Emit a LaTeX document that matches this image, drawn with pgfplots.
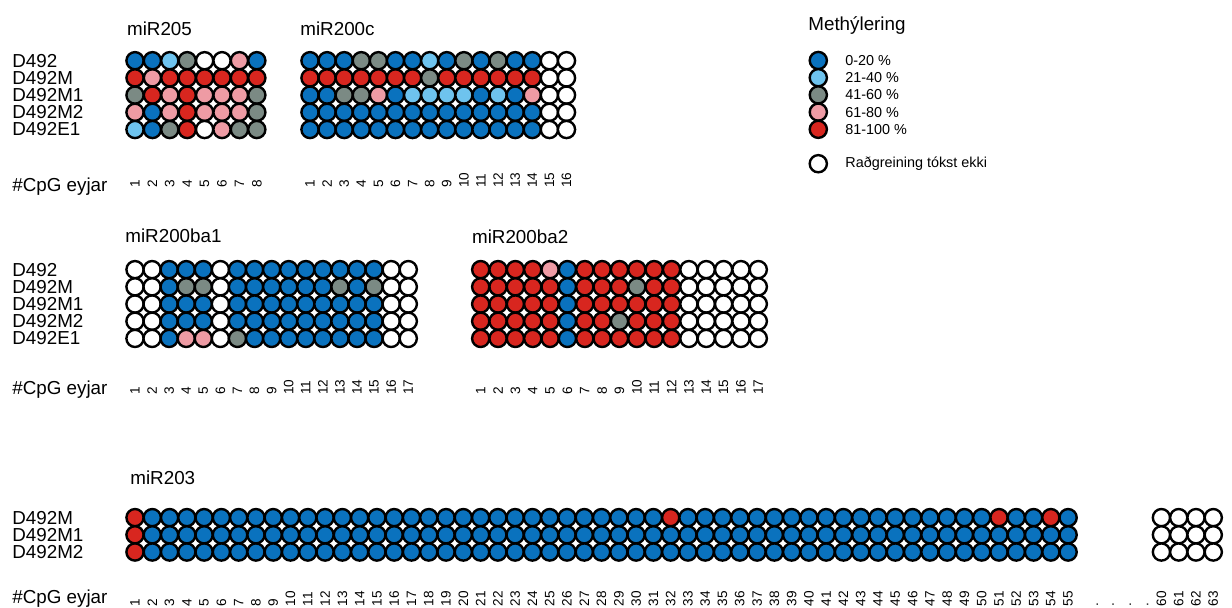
\documentclass[border=0pt]{standalone}
\usepackage{fontspec}
\setmainfont{Liberation Sans}
\usepackage{pgfplots}
\usepackage{pgfplotstable}
\pgfplotsset{compat=1.18}
\definecolor{cB}{HTML}{0A72BE}
\definecolor{cL}{HTML}{6EC3EE}
\definecolor{cG}{HTML}{7B8A84}
\definecolor{cP}{HTML}{EE9BA4}
\definecolor{cR}{HTML}{D8261F}
\pgfplotsset{
  meth/.style={
    scale only axis, clip=false, anchor=south west,
    axis line style={draw=none}, tick style={draw=none}, major tick length=0pt,
    /pgf/number format/assume math mode=true,
    xticklabel style={rotate=90, anchor=west, inner sep=0pt, font=\fontsize{6.8}{7}\selectfont},
    yticklabel style={anchor=west, inner sep=0pt, font=\fontsize{9.4}{9.4}\selectfont},
  },
  dots/.style={only marks, scatter, point meta=explicit symbolic, mark=*, mark size=4.3pt,
    mark options={line width=1.2pt},
    scatter/classes={
      b={mark=*,draw=black,fill=cB},
      l={mark=*,draw=black,fill=cL},
      g={mark=*,draw=black,fill=cG},
      p={mark=*,draw=black,fill=cP},
      r={mark=*,draw=black,fill=cR},
      w={mark=*,draw=black,fill=white}}},
}
% miR205: columns = samples D492, D492M, D492M1, D492M2, D492E1
\pgfplotstableread{
x r1 r2 r3 r4 r5
1 b r g p l
2 b p r b b
3 l r p p g
4 g r r r r
5 w r p p w
6 w r p p p
7 p r p p g
8 b r g g g
}\tabA
% miR200c
\pgfplotstableread{
x r1 r2 r3 r4 r5
1 b r b b b
2 b r b b b
3 b r g b b
4 g r g b b
5 g r p b b
6 b r b b b
7 b r l b b
8 l g l b b
9 b r l b b
10 g r l b b
11 b r b b b
12 g r l b b
13 b r b b b
14 b r p b b
15 w w w w w
16 w w w w w
}\tabB
% miR200ba1
\pgfplotstableread{
x r1 r2 r3 r4 r5
1 w w w w w
2 w w w w w
3 b b b b b
4 b g b b p
5 b g b b p
6 w w w w w
7 b b b b g
8 b b b b b
9 b b b b b
10 b b b b b
11 b b b b b
12 b b b b b
13 b g b b b
14 b b b b b
15 b g b b b
16 w w w w w
17 w w w w w
}\tabC
% miR200ba2
\pgfplotstableread{
x r1 r2 r3 r4 r5
1 r r r r r
2 r r r r r
3 r r r r r
4 r r r r r
5 p r r r r
6 b b b b b
7 r r r r r
8 r r r r r
9 r r r g r
10 r g r r r
11 r r r r r
12 r r r r r
13 w w w w w
14 w w w w w
15 w w w w w
16 w w w w w
17 w w w w w
}\tabD
% miR203: D492M, D492M1, D492M2
\pgfplotstableread{
x r1 r2 r3
1 r r r
2 b b b
3 b b b
4 b b b
5 b b b
6 b b b
7 b b b
8 b b b
9 b b b
10 b b b
11 b b b
12 b b b
13 b b b
14 b b b
15 b b b
16 b b b
17 b b b
18 b b b
19 b b b
20 b b b
21 b b b
22 b b b
23 b b b
24 b b b
25 b b b
26 b b b
27 b b b
28 b b b
29 b b b
30 b b b
31 b b b
32 r b b
33 b b b
34 b b b
35 b b b
36 b b b
37 b b b
38 b b b
39 b b b
40 b b b
41 b b b
42 b b b
43 b b b
44 b b b
45 b b b
46 b b b
47 b b b
48 b b b
49 b b b
50 b b b
51 r b b
52 b b b
53 b b b
54 r b b
55 b b b
60.4 w w w
61.4 w w w
62.4 w w w
63.4 w w w
}\tabE
\begin{document}
\begin{tikzpicture}
\tikzset{lab/.style={anchor=base west, inner sep=0pt, font=\fontsize{9.4}{9.4}\selectfont}}
% ---- miR205
\begin{axis}[meth, at={(6pt,-94.15pt)}, x=8.7pt, y=8.6pt,
  xmin=-6.069, xmax=8.5, ymin=-2.419, ymax=5.5,
  xtick={1,...,8}, ytick={1,...,5},
  yticklabels={D492E1,D492M2,D492M1,D492M,D492}]
\addplot[dots] table[x=x, y expr=5, meta=r1] {\tabA};
\addplot[dots] table[x=x, y expr=4, meta=r2] {\tabA};
\addplot[dots] table[x=x, y expr=3, meta=r3] {\tabA};
\addplot[dots] table[x=x, y expr=2, meta=r4] {\tabA};
\addplot[dots] table[x=x, y expr=1, meta=r5] {\tabA};
\end{axis}
% ---- miR200c
\begin{axis}[meth, at={(150.725pt,-94.15pt)}, x=8.55pt, y=8.6pt,
  xmin=0.5, xmax=16.5, ymin=-2.419, ymax=5.5,
  xtick={1,...,16}, ytick=\empty]
\addplot[dots] table[x=x, y expr=5, meta=r1] {\tabB};
\addplot[dots] table[x=x, y expr=4, meta=r2] {\tabB};
\addplot[dots] table[x=x, y expr=3, meta=r3] {\tabB};
\addplot[dots] table[x=x, y expr=2, meta=r4] {\tabB};
\addplot[dots] table[x=x, y expr=1, meta=r5] {\tabB};
\end{axis}
% ---- miR200ba1
\begin{axis}[meth, at={(6pt,-197.5pt)}, x=8.54pt, y=8.6pt,
  xmin=-6.2014, xmax=17.5, ymin=-2.29, ymax=5.5,
  xtick={1,...,17}, ytick={1,...,5},
  yticklabels={D492E1,D492M2,D492M1,D492M,D492}]
\addplot[dots] table[x=x, y expr=5, meta=r1] {\tabC};
\addplot[dots] table[x=x, y expr=4, meta=r2] {\tabC};
\addplot[dots] table[x=x, y expr=3, meta=r3] {\tabC};
\addplot[dots] table[x=x, y expr=2, meta=r4] {\tabC};
\addplot[dots] table[x=x, y expr=1, meta=r5] {\tabC};
\end{axis}
% ---- miR200ba2
\begin{axis}[meth, at={(236.01pt,-197.5pt)}, x=8.675pt, y=8.6pt,
  xmin=0.5, xmax=17.5, ymin=-2.29, ymax=5.5,
  xtick={1,...,17}, ytick=\empty]
\addplot[dots] table[x=x, y expr=5, meta=r1] {\tabD};
\addplot[dots] table[x=x, y expr=4, meta=r2] {\tabD};
\addplot[dots] table[x=x, y expr=3, meta=r3] {\tabD};
\addplot[dots] table[x=x, y expr=2, meta=r4] {\tabD};
\addplot[dots] table[x=x, y expr=1, meta=r5] {\tabD};
\end{axis}
% ---- miR203
\begin{axis}[meth, at={(6pt,-303.35pt)}, x=8.64pt, y=8.6pt,
  xmin=-6.118, xmax=64, ymin=-2.18, ymax=3.5,
  xtick={1,2,3,4,5,6,7,8,9,10,11,12,13,14,15,16,17,18,19,20,21,22,23,24,25,26,27,28,29,30,31,32,33,34,35,36,37,38,39,40,41,42,43,44,45,46,47,48,49,50,51,52,53,54,55,56.7,57.6,58.6,59.6,60.4,61.4,62.4,63.4},
  xticklabels={1,2,3,4,5,6,7,8,9,10,11,12,13,14,15,16,17,18,19,20,21,22,23,24,25,26,27,28,29,30,31,32,33,34,35,36,37,38,39,40,41,42,43,44,45,46,47,48,49,50,51,52,53,54,55,.,.,.,.,60,61,62,63},
  ytick={1,2,3}, yticklabels={D492M2,D492M1,D492M}]
\addplot[dots] table[x=x, y expr=3, meta=r1] {\tabE};
\addplot[dots] table[x=x, y expr=2, meta=r2] {\tabE};
\addplot[dots] table[x=x, y expr=1, meta=r3] {\tabE};
\end{axis}
% ---- legend
\begin{axis}[meth, at={(404.85pt,-86.15pt)}, x=8.6pt, y=8.6pt,
  xmin=0.5, xmax=2.552, ymin=-1.5, ymax=5.5,
  xtick=\empty, ytick={-1,1,2,3,4,5}, yticklabel pos=right,
  yticklabel style={anchor=west, inner sep=0pt, font=\fontsize{7.2}{7.2}\selectfont},
  yticklabels={Raðgreining tókst ekki,81-100 \%,61-80 \%,41-60 \%,21-40 \%,0-20 \%}]
\addplot[dots] coordinates {(1,5)[b] (1,4)[l] (1,3)[g] (1,2)[p] (1,1)[r] (1,-1)[w]};
\end{axis}
% ---- titles and labels
\node[lab] at (63.35pt,-17.75pt) {miR205};
\node[lab] at (150pt,-17.75pt) {miR200c};
\node[lab] at (62.5pt,-121pt) {miR200ba1};
\node[lab] at (235.85pt,-121.5pt) {miR200ba2};
\node[lab] at (65pt,-242pt) {miR203};
\node[lab] at (404pt,-15.35pt) {Methýlering};
\node[lab] at (6pt,-95.75pt) {\#CpG eyjar};
\node[lab] at (6pt,-197.15pt) {\#CpG eyjar};
\node[lab] at (6pt,-301.5pt) {\#CpG eyjar};
\pgfresetboundingbox
\path[use as bounding box] (0,0) rectangle (616pt,-303.5pt);
\end{tikzpicture}
\end{document}
